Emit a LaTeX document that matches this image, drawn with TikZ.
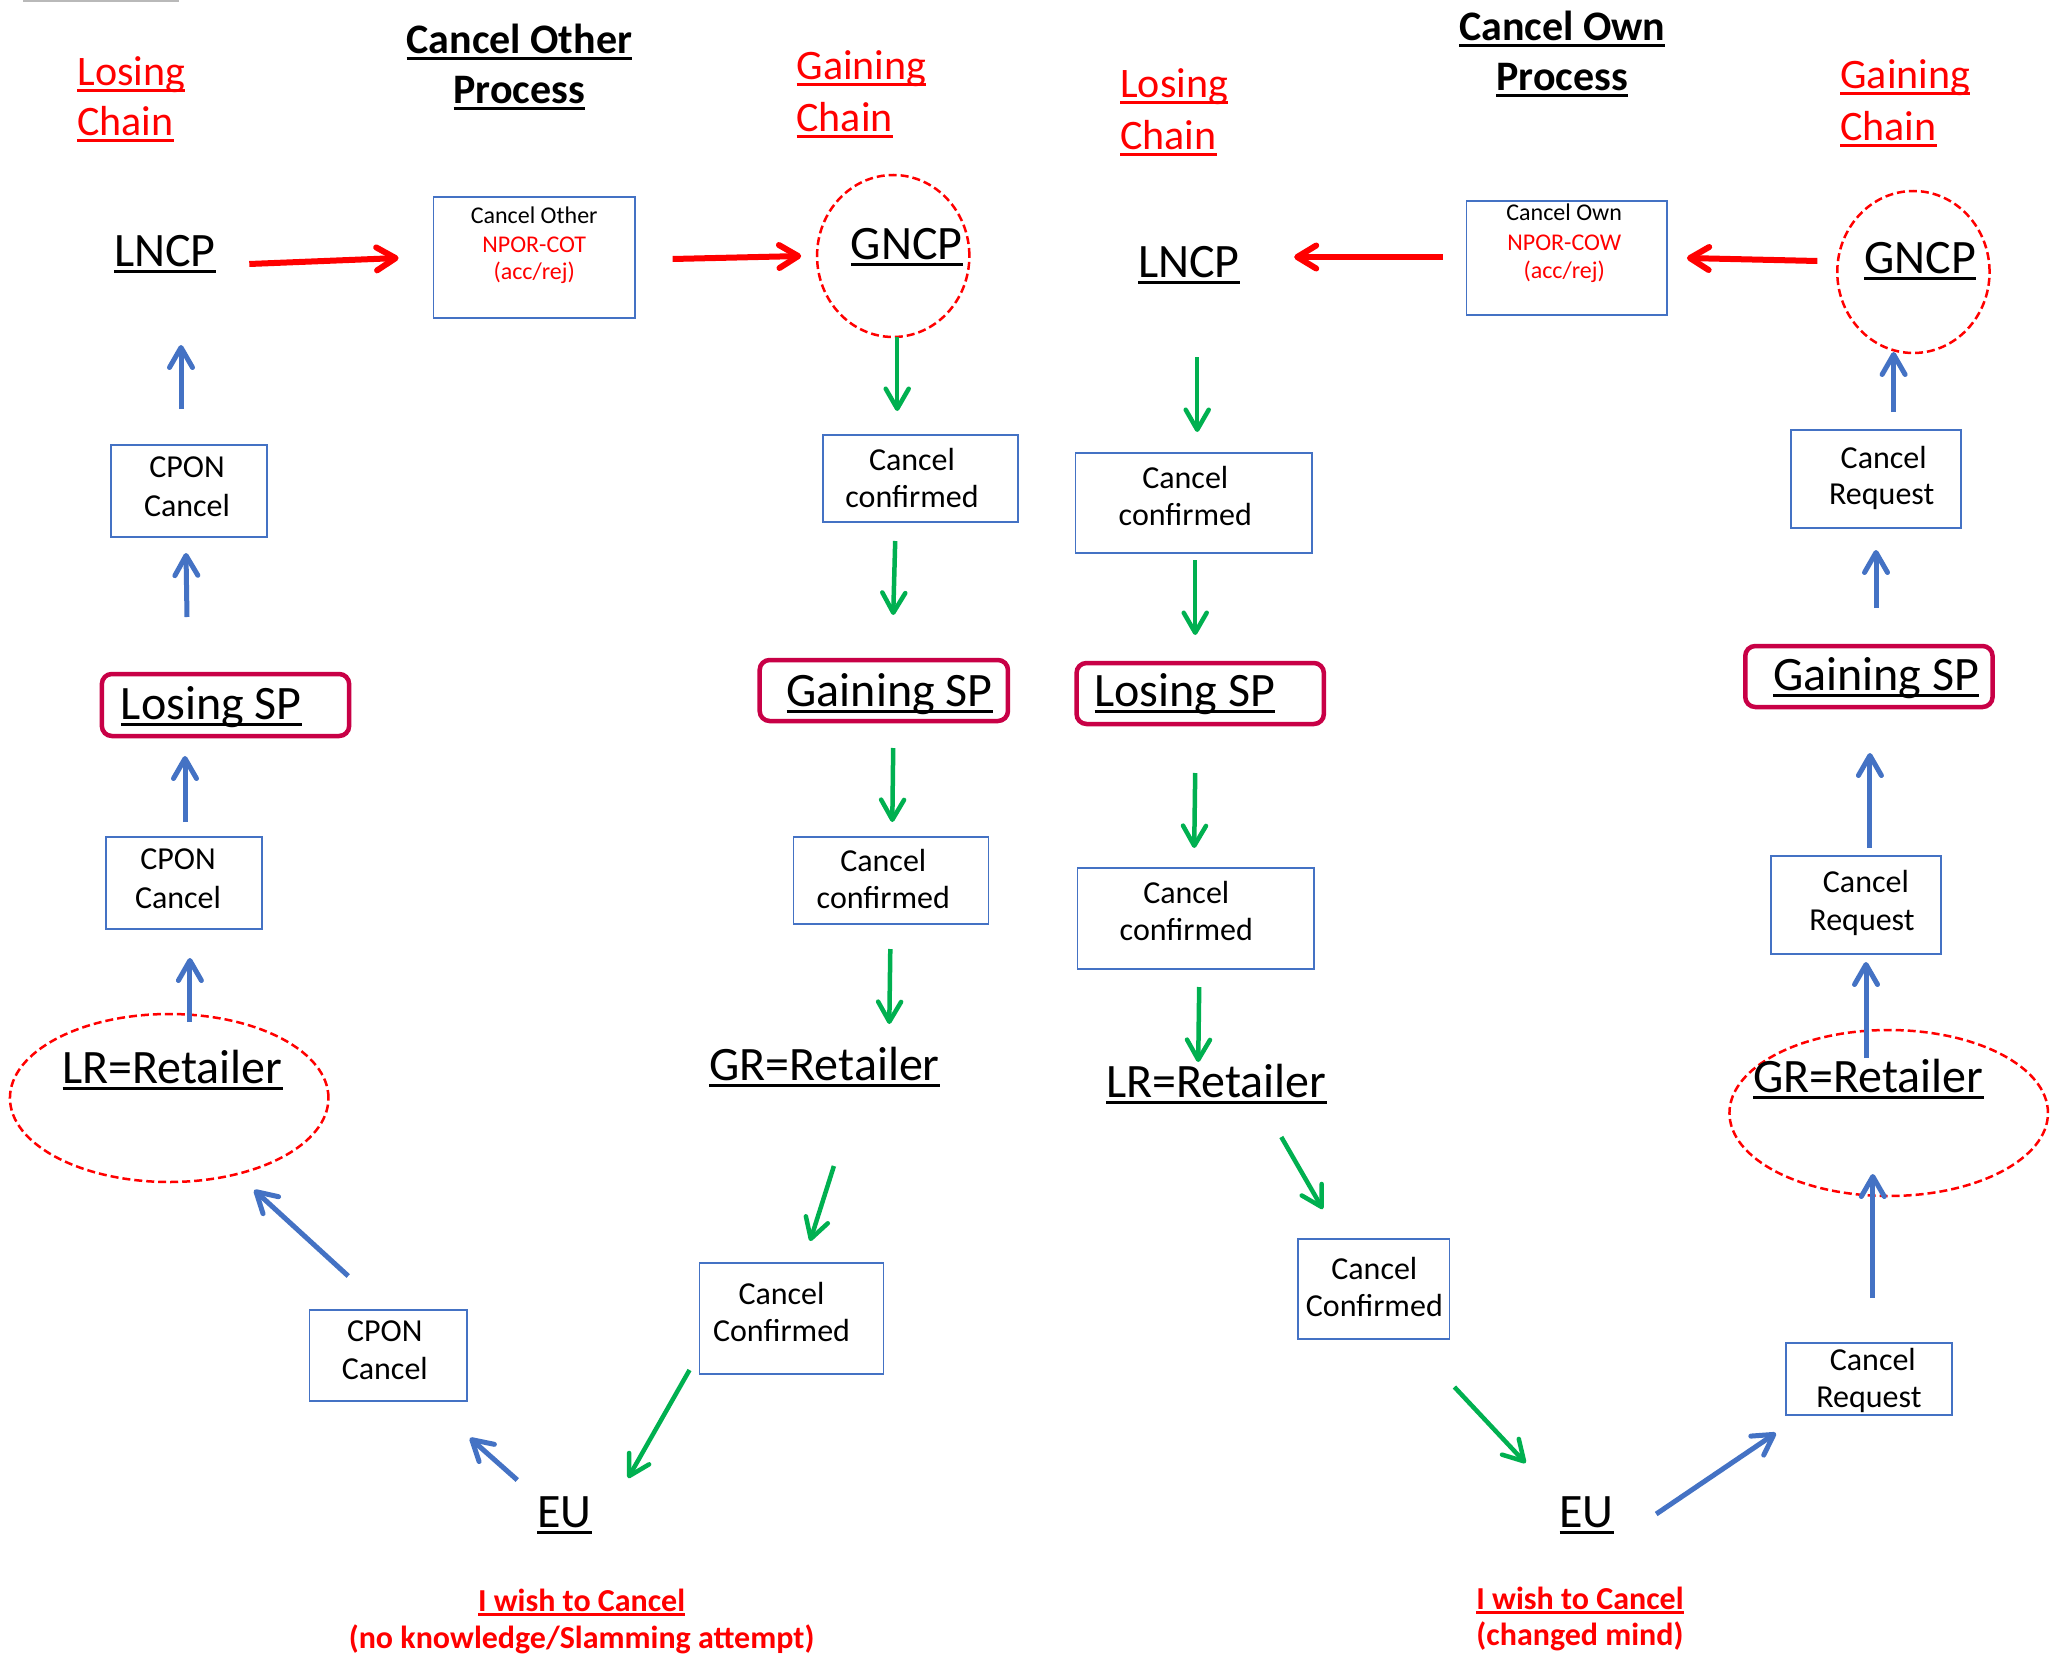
\documentclass[tikz,border=0pt]{standalone}
\usepackage{fontspec}
\setmainfont{Carlito}
\usetikzlibrary{arrows.meta,shapes.geometric}
\definecolor{xred}{HTML}{FF0000}
\definecolor{xgreen}{HTML}{00B050}
\definecolor{xblue}{HTML}{4472C4}
\definecolor{xcrim}{RGB}{200,0,70}
\newsavebox\myulbox
\newcommand\ulx[1]{\sbox\myulbox{#1}\rlap{\rule[-0.15em]{\wd\myulbox}{0.075em}}\usebox\myulbox}
\begin{document}
\begin{tikzpicture}[x=1pt,y=-1pt,
  txtL/.style={inner sep=0pt, anchor=base west},
  txtC/.style={inner sep=0pt, anchor=base},
  fhead/.style={font=\fontsize{42}{50}\selectfont\bfseries},
  fchain/.style={font=\fontsize{42}{50}\selectfont, text=xred},
  fbig/.style={font=\fontsize{48}{58}\selectfont},
  fbox/.style={font=\fontsize{32}{38}\selectfont},
  fsmall/.style={font=\fontsize{24}{28}\selectfont},
  fcap/.style={font=\fontsize{32}{37}\selectfont\bfseries, text=xred},
  bbox/.style={draw=xblue, line width=1.5pt, inner sep=0pt},
  spbox/.style={draw=xcrim, line width=4.5pt, rounded corners=10pt, inner sep=0pt},
  ring/.style={ellipse, draw=xred, line width=2.5pt, dash pattern=on 8pt off 4pt, inner sep=0pt},
  redarr/.style={draw=xred, line width=6pt, -{Straight Barb[length=19pt,width=23pt,round]}},
  greenarr/.style={draw=xgreen, line width=4.5pt, -{Straight Barb[length=20pt,width=23pt,round]}},
  bluearr/.style={draw=xblue, line width=5pt, -{Straight Barb[length=20pt,width=23pt,round]}}
]
\useasboundingbox (0,0) rectangle (2069,1664);
\fill[white] (0,0) rectangle (2069,1664);
\fill[gray!55] (23,0) rectangle (179,2.5);

% ================= LEFT: Cancel Other Process =================
\node[txtL,fchain] (lchA1) at (77.2,86) {\ulx{Losing}};
\node[txtL,fchain] (lchA2) at (77.2,136) {\ulx{Chain}};
\node[txtC,fhead] (ttlA1) at (519.3,54) {\ulx{Cancel Other}};
\node[txtC,fhead] (ttlA2) at (519.3,104) {\ulx{Process}};
\node[txtL,fchain] (gchA1) at (796.3,80) {\ulx{Gaining}};
\node[txtL,fchain] (gchA2) at (796.3,132) {\ulx{Chain}};

\node[txtL,fbig] (lncpA) at (113.8,266) {\ulx{LNCP}};
\node[ring, minimum width=152.3pt, minimum height=162pt] (gncpAr) at (893.2,256) {};
\node[txtL,fbig] (gncpA) at (850.7,259) {\ulx{GNCP}};

\node[bbox, minimum width=201.8pt, minimum height=121pt] (cot) at (534.2,257.5) {};
\node[txtC,fsmall] (cotT1) at (534.2,223) {Cancel Other};
\node[txtC,fsmall,text=xred] (cotT2) at (534.2,252) {NPOR-COT};
\node[txtC,fsmall,text=xred] (cotT3) at (534.2,279) {(acc/rej)};

\node[bbox, minimum width=156.3pt, minimum height=92pt] (cpon1) at (188.9,491) {};
\node[txtC,fbox] (cpon1a) at (187,477) {CPON};
\node[txtC,fbox] (cpon1b) at (187,516) {Cancel};

\node[spbox, minimum width=247.3pt, minimum height=62pt] (lspA) at (225.5,705) {};
\node[txtL,fbig] (lspAt) at (120.7,719) {\ulx{Losing SP}};

\node[bbox, minimum width=156.3pt, minimum height=92pt] (cpon2) at (184,883) {};
\node[txtC,fbox] (cpon2a) at (178,869) {CPON};
\node[txtC,fbox] (cpon2b) at (178,908) {Cancel};

\node[ring, minimum width=318.5pt, minimum height=168pt] (lrAr) at (169.2,1098) {};
\node[txtL,fbig] (lrA) at (62.3,1083) {\ulx{LR=Retailer}};

\node[bbox, minimum width=157.3pt, minimum height=91pt] (cpon3) at (388.3,1355.5) {};
\node[txtC,fbox] (cpon3a) at (384.8,1341) {CPON};
\node[txtC,fbox] (cpon3b) at (384.8,1379) {Cancel};

\node[txtL,fbig] (euA) at (537.1,1527) {\ulx{EU}};
\node[txtC,fcap] (capA1) at (581.6,1611) {\ulx{I wish to Cancel}};
\node[txtC,fcap] (capA2) at (581.6,1648) {(no knowledge/Slamming attempt)};

\node[bbox, minimum width=194.9pt, minimum height=87pt] (gcc1) at (920.4,478.5) {};
\node[txtC,fbox] (gcc1a) at (912,470) {Cancel};
\node[txtC,fbox] (gcc1b) at (912,507) {confirmed};

\node[spbox, minimum width=248.3pt, minimum height=61pt] (gspA) at (883.8,690.5) {};
\node[txtL,fbig] (gspAt) at (786.4,706) {\ulx{Gaining SP}};

\node[bbox, minimum width=194.9pt, minimum height=87pt] (gcc2) at (890.8,880.5) {};
\node[txtC,fbox] (gcc2a) at (883.3,871) {Cancel};
\node[txtC,fbox] (gcc2b) at (883.3,908) {confirmed};

\node[txtL,fbig] (grA) at (709.2,1080) {\ulx{GR=Retailer}};

\node[bbox, minimum width=184pt, minimum height=111pt] (gcc3) at (791.3,1318.5) {};
\node[txtC,fbox] (gcc3a) at (781.5,1304) {Cancel};
\node[txtC,fbox] (gcc3b) at (781.5,1341) {Confirmed};

% ================= RIGHT: Cancel Own Process =================
\node[txtL,fchain] (lchB1) at (1120.1,98) {\ulx{Losing}};
\node[txtL,fchain] (lchB2) at (1120.1,150) {\ulx{Chain}};
\node[txtC,fhead] (ttlB1) at (1562.2,41) {\ulx{Cancel Own}};
\node[txtC,fhead] (ttlB2) at (1562.2,91) {\ulx{Process}};
\node[txtL,fchain] (gchB1) at (1840.2,89) {\ulx{Gaining}};
\node[txtL,fchain] (gchB2) at (1840.2,141) {\ulx{Chain}};

\node[txtL,fbig] (lncpB) at (1137.9,277) {\ulx{LNCP}};
\node[ring, minimum width=152.3pt, minimum height=162pt] (gncpBr) at (1913.4,272) {};
\node[txtL,fbig] (gncpB) at (1863.9,273) {\ulx{GNCP}};

\node[bbox, minimum width=200.8pt, minimum height=114pt] (cow) at (1566.7,258) {};
\node[txtC,fsmall] (cowT1) at (1564.2,221) {Cancel Own};
\node[txtC,fsmall,text=xred] (cowT2) at (1564.2,250) {NPOR-COW};
\node[txtC,fsmall,text=xred] (cowT3) at (1564.2,278) {(acc/rej)};

\node[bbox, minimum width=236.4pt, minimum height=100pt] (lcc1) at (1193.8,503) {};
\node[txtC,fbox] (lcc1a) at (1185.3,488) {Cancel};
\node[txtC,fbox] (lcc1b) at (1185.3,525) {confirmed};

\node[spbox, minimum width=247.3pt, minimum height=61pt] (lspB) at (1200.2,693.5) {};
\node[txtL,fbig] (lspBt) at (1094.3,706) {\ulx{Losing SP}};

\node[bbox, minimum width=236.4pt, minimum height=101pt] (lcc2) at (1195.7,918.5) {};
\node[txtC,fbox] (lcc2a) at (1186.3,903) {Cancel};
\node[txtC,fbox] (lcc2b) at (1186.3,940) {confirmed};

\node[txtL,fbig] (lrB) at (1106.2,1097) {\ulx{LR=Retailer}};

\node[bbox, minimum width=151.3pt, minimum height=100pt] (lcc3) at (1373.8,1289) {};
\node[txtC,fbox] (lcc3a) at (1374.3,1279) {Cancel};
\node[txtC,fbox] (lcc3b) at (1374.3,1316) {Confirmed};

\node[txtL,fbig] (euB) at (1559.3,1527) {\ulx{EU}};
\node[txtC,fcap] (capB1) at (1580,1609) {\ulx{I wish to Cancel}};
\node[txtC,fcap] (capB2) at (1580,1645) {(changed mind)};

\node[bbox, minimum width=170.1pt, minimum height=98pt] (req1) at (1875.8,479) {};
\node[txtC,fbox] (req1a) at (1883.7,468) {Cancel};
\node[txtC,fbox] (req1b) at (1881.7,504) {Request};

\node[spbox, minimum width=247.3pt, minimum height=61pt] (gspB) at (1868.9,676.5) {};
\node[txtL,fbig] (gspBt) at (1772.9,690) {\ulx{Gaining SP}};

\node[bbox, minimum width=170.1pt, minimum height=98pt] (req2) at (1856,905) {};
\node[txtC,fbox] (req2a) at (1865.9,892) {Cancel};
\node[txtC,fbox] (req2b) at (1862,930) {Request};

\node[ring, minimum width=318.5pt, minimum height=166pt] (grBr) at (1888.7,1113) {};
\node[txtL,fbig] (grB) at (1753.1,1092) {\ulx{GR=Retailer}};

\node[bbox, minimum width=166.2pt, minimum height=72pt] (req3) at (1868.9,1379) {};
\node[txtC,fbox] (req3a) at (1872.8,1370) {Cancel};
\node[txtC,fbox] (req3b) at (1868.9,1407) {Request};

% ================= connector end points (arrows float between nodes) =================
\coordinate (r1s) at (249.3,264);  \coordinate (r1e) at (398.6,258);
\coordinate (r2s) at (672.6,259);  \coordinate (r2e) at (801.2,256);
\coordinate (r3s) at (1817.4,261); \coordinate (r3e) at (1686.9,258);
\coordinate (r4s) at (1442.5,257); \coordinate (r4e) at (1294.2,257);
\coordinate (g1s) at (897.2,337);   \coordinate (g1e) at (897.2,411);
\coordinate (g2s) at (895.2,541);   \coordinate (g2e) at (893.2,615);
\coordinate (g3s) at (893.2,748);   \coordinate (g3e) at (892.3,822);
\coordinate (g4s) at (890.3,949);   \coordinate (g4e) at (889.3,1024);
\coordinate (g5s) at (833.9,1166);  \coordinate (g5e) at (810.1,1241);
\coordinate (g6s) at (689.5,1370);  \coordinate (g6e) at (628.1,1478);
\coordinate (g7s) at (1197.2,357);  \coordinate (g7e) at (1197.2,432);
\coordinate (g8s) at (1195.2,560);  \coordinate (g8e) at (1195.2,635);
\coordinate (g9s) at (1195.2,773);  \coordinate (g9e) at (1194.2,848);
\coordinate (g10s) at (1199.2,987); \coordinate (g10e) at (1198.2,1062);
\coordinate (g11s) at (1281.3,1137);\coordinate (g11e) at (1322.8,1209);
\coordinate (g12s) at (1454.4,1387);\coordinate (g12e) at (1525.6,1463);
\coordinate (b1s) at (181,409);     \coordinate (b1e) at (181,345);
\coordinate (b2s) at (187,617);     \coordinate (b2e) at (186,553);
\coordinate (b3s) at (185,822);     \coordinate (b3e) at (185,756);
\coordinate (b4s) at (189.9,1022);  \coordinate (b4e) at (189.9,958);
\coordinate (b5s) at (348.2,1276);  \coordinate (b5e) at (254.2,1190);
\coordinate (b6s) at (517.3,1480);  \coordinate (b6e) at (469.9,1438);
\coordinate (b7s) at (1893.6,412);  \coordinate (b7e) at (1893.6,352);
\coordinate (b8s) at (1876,608);    \coordinate (b8e) at (1876,550);
\coordinate (b9s) at (1869.9,848);  \coordinate (b9e) at (1869.9,753);
\coordinate (b10s) at (1866,1058);  \coordinate (b10e) at (1866,962);
\coordinate (b11s) at (1872.8,1298);\coordinate (b11e) at (1872.8,1174);
\coordinate (b12s) at (1656.2,1514);\coordinate (b12e) at (1775.9,1433);

\draw[redarr] (r1s) -- (r1e);
\draw[redarr] (r2s) -- (r2e);
\draw[redarr] (r3s) -- (r3e);
\draw[redarr] (r4s) -- (r4e);
\foreach \i in {1,...,12} {\draw[greenarr] (g\i s) -- (g\i e);}
\foreach \i in {1,...,12} {\draw[bluearr] (b\i s) -- (b\i e);}
\end{tikzpicture}
\end{document}
